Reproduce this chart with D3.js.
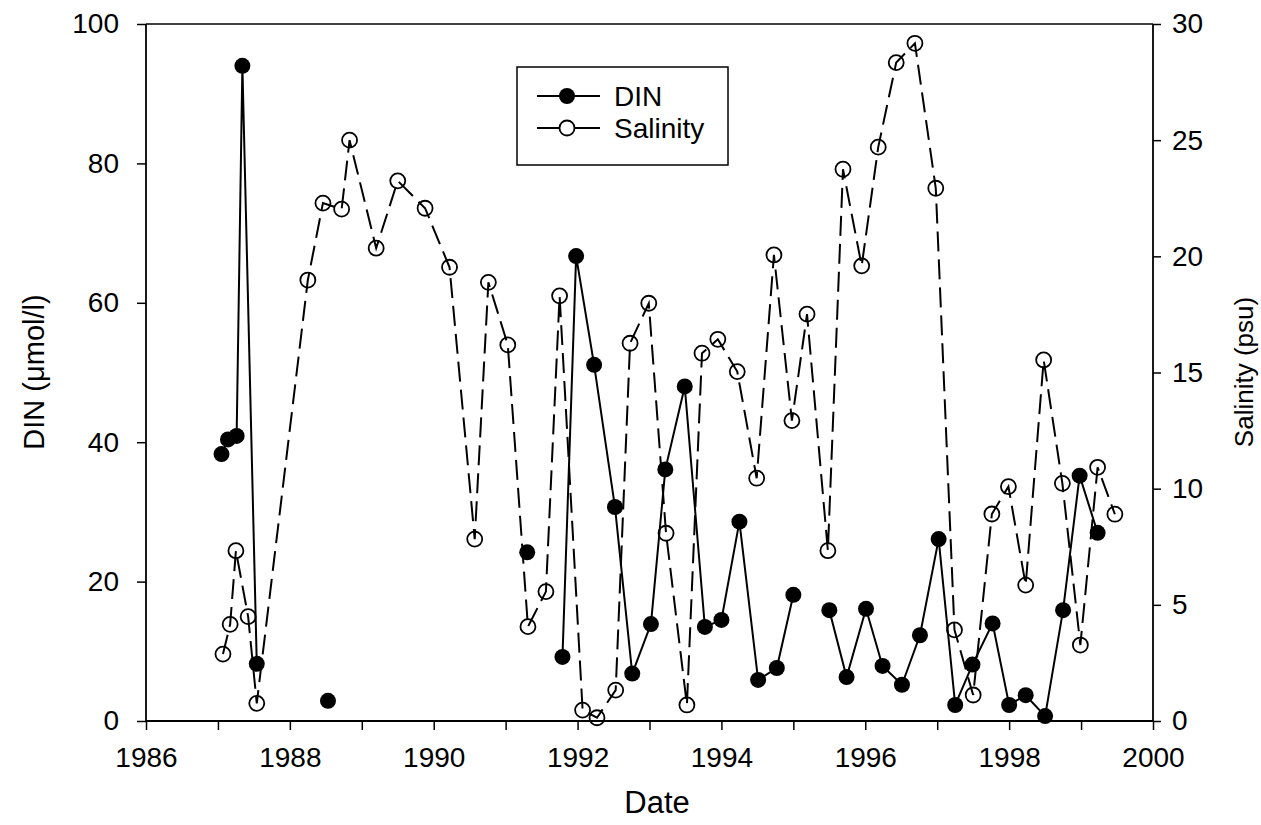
<!DOCTYPE html>
<html>
<head>
<meta charset="utf-8">
<script src="https://cdn.jsdelivr.net/npm/d3@7"></script>
<style>
  html, body { margin: 0; padding: 0; background: #fff; }
  svg { display: block; }
  text { font-family: "Liberation Sans", Arial, sans-serif; fill: #000; }
</style>
</head>
<body>
<svg id="chart" width="1261" height="825"></svg>
<script>
// ---- data ----
// DIN (µmol/l); null values mark breaks in the line
const dinDates  = [1987.05, 1987.14, 1987.26, 1987.34, 1987.54, 1988.0, 1988.53, 1990.0, 1991.30, 1991.5,
                   1991.79, 1991.98, 1992.23, 1992.52, 1992.76, 1993.02, 1993.22, 1993.49, 1993.77, 1994.00,
                   1994.25, 1994.51, 1994.77, 1995.00, 1995.25, 1995.50, 1995.74, 1996.01, 1996.24, 1996.51,
                   1996.76, 1997.02, 1997.25, 1997.49, 1997.77, 1998.00, 1998.23, 1998.50, 1998.75, 1998.98,
                   1999.23];
const dinValues = [38.3, 40.4, 40.9, 94.0, 8.2, null, 2.9, null, 24.2, null,
                   9.2, 66.7, 51.1, 30.7, 6.8, 13.9, 36.1, 48.0, 13.5, 14.5,
                   28.6, 5.9, 7.6, 18.1, null, 15.9, 6.3, 16.1, 7.9, 5.2,
                   12.3, 26.1, 2.3, 8.1, 14.0, 2.3, 3.7, 0.7, 15.9, 35.2,
                   27.0];
// Salinity (psu)
const salDates  = [1987.07, 1987.17, 1987.25, 1987.42, 1987.54, 1988.25, 1988.46, 1988.72, 1988.83, 1989.20,
                   1989.50, 1989.88, 1990.22, 1990.57, 1990.76, 1991.03, 1991.31, 1991.56, 1991.75, 1992.07,
                   1992.27, 1992.53, 1992.73, 1992.99, 1993.23, 1993.52, 1993.73, 1993.95, 1994.22, 1994.49,
                   1994.73, 1994.98, 1995.19, 1995.48, 1995.69, 1995.95, 1996.18, 1996.43, 1996.69, 1996.98,
                   1997.24, 1997.50, 1997.76, 1997.99, 1998.23, 1998.48, 1998.74, 1998.99, 1999.23, 1999.47];
const salValues = [2.88, 4.16, 7.33, 4.49, 0.76, 18.98, 22.29, 22.03, 25.0, 20.35,
                   23.25, 22.07, 19.53, 7.83, 18.88, 16.19, 4.06, 5.57, 18.3, 0.47,
                   0.14, 1.33, 16.26, 17.98, 8.08, 0.69, 15.83, 16.43, 15.04, 10.45,
                   20.06, 12.93, 17.51, 7.33, 23.75, 19.59, 24.7, 28.34, 29.17, 22.93,
                   3.92, 1.12, 8.91, 10.09, 5.85, 15.54, 10.23, 3.27, 10.92, 8.9];

const xTickValues = [1986, 1987, 1988, 1989, 1990, 1991, 1992, 1993, 1994, 1995, 1996, 1997, 1998, 1999, 2000];
const xLabelValues = [1986, 1988, 1990, 1992, 1994, 1996, 1998, 2000];
const yLeftTicks  = [0, 20, 40, 60, 80, 100];
const yRightTicks = [0, 5, 10, 15, 20, 25, 30];
const seriesNames = ["DIN", "Salinity"];
const xTitle = "Date";
const yLeftTitle = "DIN (\u03bcmol/l)";
const yRightTitle = "Salinity (psu)";

// ---- layout ----
const svg = d3.select("#chart");
const L = 146, R = 1153, T = 24, B = 721;
const FONT = '"Liberation Sans", Arial, sans-serif';

const x  = d3.scaleLinear().domain([1986, 2000]).range([L, R]);
const yL = d3.scaleLinear().domain([0, 100]).range([B, T]);
const yR = d3.scaleLinear().domain([0, 30]).range([B, T]);

const din = dinDates.map((d, i) => ({x: d, y: dinValues[i]}));
const sal = salDates.map((d, i) => ({x: d, y: salValues[i]}));

// frame top line
svg.append("line").attr("x1", L).attr("x2", R).attr("y1", T).attr("y2", T)
  .attr("stroke", "#000").attr("stroke-width", 1.5);

// x axis
const gx = svg.append("g").attr("transform", `translate(0,${B})`)
  .call(d3.axisBottom(x).tickValues(xTickValues).tickSize(9).tickPadding(17)
        .tickFormat(d => xLabelValues.includes(d) ? d3.format("d")(d) : ""));
// left axis
const gl = svg.append("g").attr("transform", `translate(${L},0)`)
  .call(d3.axisLeft(yL).tickValues(yLeftTicks).tickSize(9).tickPadding(18));
// right axis
const gr = svg.append("g").attr("transform", `translate(${R},0)`)
  .call(d3.axisRight(yR).tickValues(yRightTicks).tickSize(8).tickPadding(11));

[gx, gl, gr].forEach(g => {
  g.attr("font-family", FONT).attr("font-size", 28);
  g.selectAll(".domain").attr("stroke", "#000").attr("stroke-width", 1.8);
  g.selectAll(".tick line").attr("stroke", "#000").attr("stroke-width", 1.5);
  g.selectAll(".tick text").attr("font-size", 28).attr("font-family", FONT).attr("fill", "#000");
});
gx.select(".domain").attr("d", `M${L},0H${R}`);
gl.select(".domain").attr("d", `M0,${B}V${T}`);
gr.select(".domain").attr("d", `M0,${B}V${T}`);

// titles
svg.append("text").attr("x", 657).attr("y", 813).attr("text-anchor", "middle")
  .attr("font-size", 31).text(xTitle);
svg.append("text").attr("transform", "translate(44,372) rotate(-90)").attr("text-anchor", "middle")
  .attr("font-size", 29).text(yLeftTitle);
svg.append("text").attr("transform", "translate(1253,372) rotate(-90)").attr("text-anchor", "middle")
  .attr("font-size", 26).text(yRightTitle);

// lines
const lineL = d3.line().defined(d => d.y !== null).x(d => x(d.x)).y(d => yL(d.y));
const lineR = d3.line().defined(d => d.y !== null).x(d => x(d.x)).y(d => yR(d.y));

svg.append("path").datum(din).attr("d", lineL)
  .attr("fill", "none").attr("stroke", "#000").attr("stroke-width", 2);
svg.append("path").datum(sal).attr("d", lineR)
  .attr("fill", "none").attr("stroke", "#000").attr("stroke-width", 2).attr("stroke-dasharray", "20,8");

// markers
svg.append("g").selectAll("circle").data(din.filter(d => d.y !== null)).join("circle")
  .attr("cx", d => x(d.x)).attr("cy", d => yL(d.y)).attr("r", 8).attr("fill", "#000");
svg.append("g").selectAll("circle").data(sal).join("circle")
  .attr("cx", d => x(d.x)).attr("cy", d => yR(d.y)).attr("r", 7.5)
  .attr("fill", "none").attr("stroke", "#000").attr("stroke-width", 1.8);

// legend
const lg = svg.append("g");
lg.append("rect").attr("x", 517).attr("y", 67).attr("width", 211).attr("height", 98)
  .attr("fill", "#fff").attr("stroke", "#000").attr("stroke-width", 1.5);
const rows = [{name: seriesNames[0], y: 96, filled: true}, {name: seriesNames[1], y: 128, filled: false}];
rows.forEach(r => {
  lg.append("line").attr("x1", 537).attr("x2", 600).attr("y1", r.y).attr("y2", r.y)
    .attr("stroke", "#000").attr("stroke-width", 2);
  lg.append("circle").attr("cx", 567).attr("cy", r.y).attr("r", r.filled ? 8 : 7.5)
    .attr("fill", r.filled ? "#000" : "#fff").attr("stroke", "#000").attr("stroke-width", r.filled ? 0 : 1.8);
  lg.append("text").attr("x", 614).attr("y", r.y + 10).attr("font-size", 28).text(r.name);
});
</script>
</body>
</html>
